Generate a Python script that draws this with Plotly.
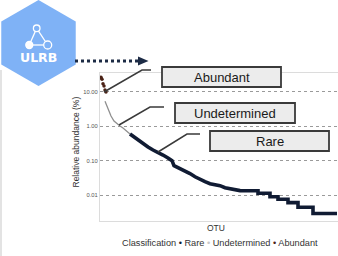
import plotly.graph_objects as go

W, H = 338, 256

# ---------------- data (rank of OTU, relative abundance %) ----------------
abundant_rank = [1, 2, 3, 4, 5, 6]
abundant_abund = [27.0, 23.5, 17.5, 15.0, 11.5, 10.0]

undet_rank = [5, 7, 9, 11, 14, 17, 20, 23, 26, 30]
undet_abund = [5.4, 3.7, 2.6, 2.0, 1.43, 1.17, 1.02, 0.89, 0.73, 0.60]

rare_rank = [30, 34, 38, 43, 48, 53, 58, 63, 68, 72, 74, 80, 85, 90, 95, 100,
             105, 110, 115, 120, 125, 130, 135, 140, 158, 158, 170, 170, 178,
             178, 188, 188, 198, 198, 213, 213, 237]
rare_abund = [0.60, 0.49, 0.40, 0.305, 0.25, 0.204, 0.167, 0.146, 0.12, 0.10,
              0.0715, 0.0585, 0.051, 0.042, 0.034, 0.028, 0.0244, 0.0214,
              0.020, 0.0187, 0.0163, 0.0153, 0.0143, 0.0134, 0.0133, 0.0112,
              0.0112, 0.0089, 0.0089, 0.0075, 0.0075, 0.0060, 0.0060, 0.0044,
              0.0044, 0.0029, 0.0029]

tick_vals = [10, 1, 0.1, 0.01]
tick_text = ["10.00", "1.00", "0.10", "0.01"]
labels = ["Abundant", "Undetermined", "Rare"]

NAVY = "#101b33"
GRAY = "#8f8f8f"
BROWN = "#4b2216"
FONT = "Liberation Sans, Arial, sans-serif"


def px(x):
    return x / W


def py(y):
    return 1 - y / H


fig = go.Figure()
fig.add_trace(go.Scatter(x=undet_rank, y=undet_abund, mode="lines",
                         line=dict(color=GRAY, width=1.3), showlegend=False))
fig.add_trace(go.Scatter(x=rare_rank, y=rare_abund, mode="lines",
                         line=dict(color=NAVY, width=3.6), showlegend=False))
fig.add_trace(go.Scatter(x=abundant_rank, y=abundant_abund, mode="markers",
                         marker=dict(color=BROWN, size=3.5), showlegend=False))

shapes = []
annotations = []

# hexagon logo
cx, cy, R = 38.5, 43, 43
hw = R * 0.866
hexpts = [(cx, cy - R), (cx + hw, cy - R / 2), (cx + hw, cy + R / 2),
          (cx, cy + R), (cx - hw, cy + R / 2), (cx - hw, cy - R / 2)]
path = "M " + " L ".join(f"{px(a)},{py(b)}" for a, b in hexpts) + " Z"
shapes.append(dict(type="path", xref="paper", yref="paper", path=path,
                   fillcolor="#7fb2f6", line=dict(width=0), layer="below"))

# icon in logo
nodes = [(36.7, 28.3, 3.3), (29.3, 45, 3.5), (47.7, 45, 4.0)]
for i, j in [(0, 1), (0, 2), (1, 2)]:
    x0, y0, r0 = nodes[i]
    x1, y1, r1 = nodes[j]
    shapes.append(dict(type="line", xref="paper", yref="paper",
                       x0=px(x0), y0=py(y0), x1=px(x1), y1=py(y1),
                       line=dict(color="white", width=1.3)))
for k, (x0, y0, r) in enumerate(nodes):
    shapes.append(dict(type="circle", xref="paper", yref="paper",
                       x0=px(x0 - r), x1=px(x0 + r), y0=py(y0 + r), y1=py(y0 - r),
                       fillcolor="#fdfdff" if k == 1 else "#7fb2f6",
                       line=dict(color="white", width=1.3)))
annotations.append(dict(text="<b>ULRB</b>", xref="paper", yref="paper",
                        x=px(38.5), y=py(57.5), showarrow=False,
                        font=dict(family="DejaVu Sans, sans-serif", size=12.5, color="white"),
                        xanchor="center", yanchor="middle"))

# dotted arrow
shapes.append(dict(type="line", xref="paper", yref="paper",
                   x0=px(75), y0=py(61), x1=px(139), y1=py(61),
                   line=dict(color="#1c2b45", width=3, dash="dot")))
shapes.append(dict(type="path", xref="paper", yref="paper",
                   path=f"M {px(138)},{py(56.5)} L {px(148.5)},{py(61)} L {px(138)},{py(65.5)} Z",
                   fillcolor="#1c2b45", line=dict(width=0)))

# left faint vertical line
shapes.append(dict(type="line", xref="paper", yref="paper",
                   x0=px(1), y0=py(70), x1=px(1), y1=py(256),
                   line=dict(color="#d0d0d0", width=1.2)))

# label boxes + leader lines
boxes = [(162, 67, 281, 87), (175, 103, 295, 123), (210, 131, 329, 151)]
leaders = [[(104, 92), (142, 70), (151, 70)],
           [(119, 125), (150, 107), (164, 107)],
           [(158, 152), (187, 134), (200, 134)]]
for lab, (x0, y0, x1, y1), pts in zip(labels, boxes, leaders):
    shapes.append(dict(type="rect", xref="paper", yref="paper",
                       x0=px(x0), x1=px(x1), y0=py(y1), y1=py(y0),
                       fillcolor="#ececec", line=dict(color="#3a3a3a", width=1.8)))
    annotations.append(dict(text=lab, xref="paper", yref="paper",
                            x=px((x0 + x1) / 2), y=py((y0 + y1) / 2 + 0.5),
                            showarrow=False, xanchor="center", yanchor="middle",
                            font=dict(family=FONT, size=13, color="#1a1a1a")))
    lp = "M " + " L ".join(f"{px(a)},{py(b)}" for a, b in pts)
    shapes.append(dict(type="path", xref="paper", yref="paper", path=lp,
                       line=dict(color="#3a3a3a", width=1.5)))

# axis titles & legend
annotations.append(dict(text="Relative abundance (%)", xref="paper", yref="paper",
                        x=px(75.5), y=py(142), textangle=-90, showarrow=False,
                        xanchor="center", yanchor="middle",
                        font=dict(family=FONT, size=8.5, color="#333")))
annotations.append(dict(text="OTU", xref="paper", yref="paper",
                        x=px(216), y=py(228), showarrow=False,
                        xanchor="center", yanchor="middle",
                        font=dict(family=FONT, size=8.5, color="#333")))
legend_txt = (f"Classification <span style='color:{NAVY}'>•</span> Rare "
              f"<span style='color:#c8c8c8'>•</span> Undetermined "
              f"<span style='color:{BROWN}'>•</span> Abundant")
annotations.append(dict(text=legend_txt, xref="paper", yref="paper",
                        x=px(219.5), y=py(243), showarrow=False,
                        xanchor="center", yanchor="middle",
                        font=dict(family=FONT, size=9.2, color="#333")))

fig.update_layout(
    width=W, height=H, margin=dict(l=0, r=0, t=0, b=0),
    paper_bgcolor="white", plot_bgcolor="white",
    shapes=shapes, annotations=annotations, showlegend=False,
    xaxis=dict(domain=[px(100), 1], range=[0, 238], showticklabels=False,
               showgrid=False, zeroline=False, ticks="",
               showline=True, mirror=True, linecolor="#dcdcdc", linewidth=1),
    yaxis=dict(domain=[py(221), py(73)], type="log", range=[-2.757, 1.553],
               tickvals=tick_vals, ticktext=tick_text, ticks="",
               tickfont=dict(family=FONT, size=5.8, color="#555"),
               showgrid=True, gridcolor="#9a9a9a", griddash="dot", gridwidth=1,
               zeroline=False, showline=True, mirror=True,
               linecolor="#dcdcdc", linewidth=1),
)

fig.write_html("out.html")
